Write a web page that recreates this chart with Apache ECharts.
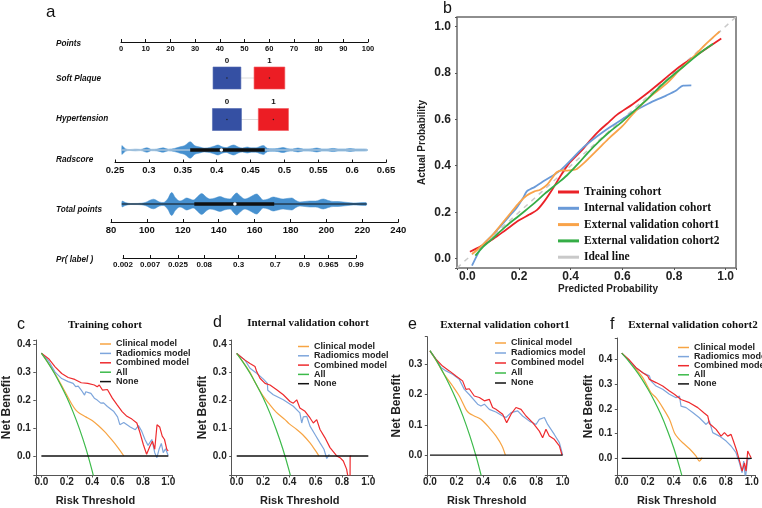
<!DOCTYPE html>
<html>
<head>
<meta charset="utf-8">
<script src="https://cdn.jsdelivr.net/npm/echarts@6.0.0/dist/echarts.min.js"></script>
<style>
  html, body { margin: 0; padding: 0; background: #fff; }
  #chart { width: 762px; height: 508px; }
</style>
</head>
<body>
<div id="chart"></div>
<script>
// ---------- panel a: nomogram ----------
var softPlaqueLevels = ['0', '1'];
var softPlaquePoints = [42.9, 60.1];
var softPlaqueFreq = [0.48, 0.53];
var hypertensionLevels = ['0', '1'];
var hypertensionPoints = [42.9, 61.7];
var hypertensionFreq = [0.5, 0.52];

var radscoreViolin = [[0.2600,0],[0.2603,4.5],[0.2625,3],[0.266,1],[0.272,0.5],[0.280,0.8],[0.288,0.6],[0.297,2.2],[0.304,0.7],[0.312,0.9],[0.321,2.2],[0.329,0.8],[0.338,1.6],[0.346,3.2],[0.353,4.5],[0.361,8.3],[0.368,4.2],[0.375,3],[0.382,2],[0.390,2.6],[0.397,4],[0.402,5],[0.408,3.2],[0.414,2.4],[0.420,4],[0.425,5],[0.432,3],[0.438,2],[0.445,3],[0.451,2.2],[0.458,2.2],[0.464,3.6],[0.469,4.5],[0.475,1.6],[0.482,1.2],[0.490,1.5],[0.498,2.6],[0.505,1.3],[0.512,1],[0.520,2],[0.528,1],[0.535,1],[0.542,1.3],[0.548,2],[0.555,1],[0.563,1],[0.572,1.6],[0.580,1],[0.590,1],[0.597,1.5],[0.605,1],[0.615,1],[0.622,0.8],[0.623,0]];
var radscoreRange = [0.26, 0.623];
var radscoreBox = [0.361, 0.471];
var radscoreMedian = 0.407;

var totalViolin = [[86,0],[86.3,3],[88,1.5],[91,0.5],[95,0.6],[99,1.5],[103.6,4.8],[107,2],[109.1,1.5],[111.5,5],[113.8,11.5],[116,6],[118.4,3],[120,4],[122.1,6],[124,5],[125.8,4],[128,7],[130.5,10.5],[133,7],[135.1,5],[138,6],[140.7,7.5],[143,6],[146.3,5],[148,8],[150,11],[152,8],[154.6,5],[157.5,7],[161.1,10],[163,7],[164.8,4],[167.5,5],[170.4,7],[173,6],[175.9,5],[178,5.5],[180.6,6],[183,3.5],[185.2,2],[188,2.5],[190.8,3],[194,3],[198.2,5],[201,3.5],[203.8,2.5],[206.5,2.5],[209.3,2],[212,1.5],[214.9,1],[218,1.2],[222,1.5],[222.4,0]];
var totalRange = [86, 222.4];
var totalBox = [126.4, 170.9];
var totalMedian = 149;

var prTicks = [0.002, 0.007, 0.025, 0.08, 0.3, 0.7, 0.9, 0.965, 0.99];
var prLabels = ['0.002', '0.007', '0.025', '0.08', '0.3', '0.7', '0.9', '0.965', '0.99'];

// ---------- panel b: calibration ----------
var calNames = ['Training cohort', 'Internal validation cohort', 'External validation cohort1', 'External validation cohort2', 'Ideal line'];
var calTraining = [[0.01,0.03],[0.05,0.052],[0.1,0.085],[0.15,0.125],[0.2,0.165],[0.24,0.19],[0.27,0.21],[0.3,0.25],[0.33,0.3],[0.36,0.355],[0.39,0.405],[0.42,0.44],[0.45,0.475],[0.48,0.515],[0.51,0.55],[0.55,0.59],[0.58,0.62],[0.64,0.665],[0.7,0.715],[0.76,0.77],[0.82,0.825],[0.88,0.87],[0.94,0.915],[0.983,0.947]];
var calInternal = [[0.018,-0.03],[0.04,0.02],[0.063,0.063],[0.1,0.105],[0.127,0.138],[0.16,0.18],[0.192,0.221],[0.215,0.26],[0.23,0.29],[0.245,0.3],[0.26,0.308],[0.29,0.33],[0.32,0.35],[0.36,0.38],[0.41,0.435],[0.45,0.48],[0.5,0.525],[0.55,0.565],[0.6,0.6],[0.642,0.632],[0.7,0.667],[0.771,0.703],[0.81,0.725],[0.835,0.745],[0.867,0.746]];
var calExternal1 = [[0.018,0.02],[0.045,0.045],[0.076,0.078],[0.1,0.105],[0.127,0.142],[0.17,0.2],[0.2,0.24],[0.23,0.272],[0.26,0.29],[0.282,0.297],[0.31,0.32],[0.346,0.372],[0.37,0.38],[0.385,0.379],[0.41,0.382],[0.424,0.386],[0.45,0.41],[0.475,0.437],[0.514,0.48],[0.55,0.52],[0.6,0.57],[0.642,0.624],[0.7,0.69],[0.771,0.753],[0.82,0.81],[0.861,0.853],[0.925,0.925],[0.977,0.978]];
var calExternal2 = [[0.031,0.013],[0.06,0.05],[0.089,0.078],[0.15,0.14],[0.2,0.185],[0.256,0.236],[0.3,0.28],[0.35,0.325],[0.385,0.358],[0.43,0.41],[0.47,0.46],[0.514,0.509],[0.55,0.545],[0.6,0.59],[0.642,0.632],[0.7,0.69],[0.76,0.755],[0.835,0.825],[0.9,0.885],[0.951,0.925]];
var calIdeal = [[-0.04,-0.04],[1.04,1.04]];

// ---------- panels c-f: decision curves ----------
var dcaNames = ['Clinical model', 'Radiomics model', 'Combined model', 'All', 'None'];
var dcaTitles = ['Training cohort', 'Internal validation cohort', 'External validation cohort1', 'External validation cohort2'];
var noneLine = [[0,0],[1,0]];

var cClinical = [[0,0.368],[0.05,0.335],[0.1,0.3],[0.15,0.26],[0.2,0.218],[0.24,0.185],[0.27,0.165],[0.3,0.153],[0.35,0.14],[0.4,0.127],[0.45,0.108],[0.5,0.086],[0.55,0.06],[0.6,0.032],[0.65,0.0]];
var cRadiomics = [[0,0.368],[0.057,0.34],[0.108,0.3],[0.16,0.277],[0.211,0.266],[0.25,0.26],[0.27,0.248],[0.29,0.25],[0.314,0.236],[0.34,0.218],[0.35,0.23],[0.39,0.224],[0.417,0.207],[0.44,0.2],[0.468,0.189],[0.49,0.19],[0.52,0.177],[0.571,0.159],[0.6,0.14],[0.618,0.112],[0.649,0.12],[0.7,0.104],[0.74,0.094],[0.765,0.109],[0.79,0.089],[0.816,0.059],[0.84,0.038],[0.87,0.059],[0.893,0.012],[0.91,-0.006],[0.927,0.024],[0.945,0.045],[0.96,0.012],[0.978,0.026],[0.999,0.002]];
var cCombined = [[0,0.368],[0.057,0.348],[0.108,0.319],[0.16,0.295],[0.211,0.281],[0.263,0.274],[0.314,0.262],[0.366,0.26],[0.417,0.254],[0.44,0.248],[0.456,0.254],[0.481,0.236],[0.52,0.238],[0.559,0.207],[0.597,0.183],[0.636,0.159],[0.674,0.142],[0.713,0.132],[0.752,0.118],[0.777,0.083],[0.803,0.041],[0.829,0.006],[0.855,0.035],[0.875,0.053],[0.893,0.024],[0.911,0.112],[0.932,0.104],[0.952,0.071],[0.97,0.059],[0.988,0.024],[0.999,0.018]];
var cAll = [[0,0.368],[0.05,0.335],[0.1,0.298],[0.15,0.256],[0.2,0.21],[0.25,0.157],[0.3,0.097],[0.35,0.028],[0.4,-0.053],[0.42,-0.09]];

var dClinical = [[0,0.367],[0.05,0.335],[0.1,0.3],[0.14,0.263],[0.2,0.215],[0.25,0.185],[0.3,0.157],[0.367,0.13],[0.4,0.115],[0.456,0.095],[0.5,0.077],[0.557,0.047],[0.6,0.018],[0.625,0.0]];
var dRadiomics = [[0,0.367],[0.063,0.343],[0.101,0.314],[0.152,0.296],[0.203,0.275],[0.233,0.26],[0.236,0.235],[0.278,0.219],[0.354,0.201],[0.43,0.178],[0.48,0.154],[0.494,0.118],[0.506,0.14],[0.532,0.142],[0.557,0.107],[0.595,0.077],[0.633,0.047],[0.663,0.024],[0.684,-0.009],[0.704,0.006]];
var dCombined = [[0,0.367],[0.063,0.343],[0.101,0.331],[0.139,0.32],[0.152,0.302],[0.177,0.278],[0.215,0.26],[0.253,0.254],[0.304,0.237],[0.354,0.219],[0.405,0.195],[0.43,0.189],[0.456,0.201],[0.48,0.172],[0.519,0.16],[0.557,0.136],[0.582,0.118],[0.608,0.13],[0.633,0.095],[0.671,0.065],[0.709,0.03],[0.76,0.0],[0.785,-0.006],[0.81,-0.018],[0.835,-0.047],[0.855,-0.1],[0.86,-0.2],[0.862,0.0],[0.87,0.0]];
var dAll = [[0,0.367],[0.05,0.334],[0.1,0.297],[0.15,0.255],[0.2,0.209],[0.25,0.156],[0.3,0.095],[0.35,0.026],[0.4,-0.055],[0.42,-0.095]];

var eClinical = [[0,0.344],[0.05,0.31],[0.1,0.272],[0.121,0.258],[0.171,0.228],[0.221,0.195],[0.271,0.151],[0.296,0.138],[0.334,0.129],[0.384,0.118],[0.447,0.09],[0.497,0.063],[0.543,0.03],[0.568,0.0]];
var eRadiomics = [[0,0.344],[0.045,0.317],[0.083,0.289],[0.121,0.278],[0.171,0.267],[0.221,0.25],[0.259,0.217],[0.296,0.2],[0.359,0.168],[0.384,0.162],[0.41,0.168],[0.447,0.151],[0.497,0.142],[0.548,0.129],[0.573,0.124],[0.611,0.14],[0.661,0.146],[0.698,0.129],[0.749,0.112],[0.799,0.101],[0.824,0.118],[0.862,0.124],[0.887,0.101],[0.912,0.085],[0.937,0.068],[0.975,0.041],[1.0,0.0]];
var eCombined = [[0,0.344],[0.045,0.317],[0.095,0.294],[0.146,0.278],[0.196,0.261],[0.246,0.245],[0.271,0.217],[0.296,0.219],[0.334,0.195],[0.372,0.19],[0.41,0.179],[0.447,0.184],[0.472,0.157],[0.497,0.151],[0.548,0.135],[0.578,0.107],[0.611,0.135],[0.648,0.157],[0.686,0.151],[0.724,0.129],[0.774,0.107],[0.824,0.079],[0.849,0.057],[0.874,0.085],[0.899,0.063],[0.937,0.052],[0.975,0.03],[0.995,0.0]];
var eAll = [[0,0.345],[0.05,0.311],[0.1,0.272],[0.15,0.229],[0.2,0.181],[0.25,0.127],[0.3,0.064],[0.35,-0.008],[0.4,-0.092]];

var fClinical = [[0,0.425],[0.059,0.393],[0.11,0.36],[0.162,0.326],[0.226,0.265],[0.264,0.245],[0.315,0.205],[0.367,0.158],[0.405,0.104],[0.431,0.084],[0.469,0.063],[0.521,0.039],[0.572,0.009],[0.597,-0.011],[0.618,0.003]];
var fRadiomics = [[0,0.425],[0.059,0.393],[0.11,0.366],[0.162,0.346],[0.213,0.333],[0.226,0.312],[0.264,0.292],[0.315,0.279],[0.367,0.259],[0.418,0.245],[0.444,0.252],[0.456,0.211],[0.495,0.205],[0.546,0.185],[0.597,0.164],[0.649,0.137],[0.674,0.151],[0.7,0.104],[0.751,0.09],[0.803,0.07],[0.841,0.05],[0.879,0.023],[0.905,-0.018],[0.926,-0.058],[0.938,-0.011],[0.951,-0.08],[0.969,-0.004],[0.995,0]];
var fCombined = [[0,0.425],[0.059,0.397],[0.11,0.366],[0.162,0.346],[0.2,0.333],[0.213,0.319],[0.264,0.306],[0.315,0.292],[0.367,0.272],[0.405,0.259],[0.418,0.252],[0.456,0.238],[0.521,0.225],[0.585,0.205],[0.636,0.182],[0.662,0.171],[0.674,0.141],[0.726,0.117],[0.764,0.09],[0.79,0.104],[0.815,0.09],[0.841,0.097],[0.859,0.07],[0.885,0.03],[0.91,-0.018],[0.926,-0.051],[0.944,-0.018],[0.956,-0.051],[0.969,0.03],[0.982,0.016],[0.995,0.003]];
var fAll = [[0,0.425],[0.05,0.395],[0.1,0.361],[0.15,0.324],[0.2,0.281],[0.25,0.233],[0.3,0.179],[0.35,0.115],[0.4,0.042],[0.45,-0.045],[0.48,-0.105]];

(function() {
  var SANS = '"Liberation Sans", Arial, sans-serif';
  var SERIF = '"Liberation Serif", "Times New Roman", serif';
  var blueBox = '#3550a3', redBox = '#ec1d24', violin = '#4690cf';
  var dcaColors = ['#f7a443', '#7ea6dc', '#ee2b2e', '#3cba4a', '#111111'];
  var calColors = ['#ea2228', '#6a9ad8', '#f9a349', '#35ad46', '#c9c9c9'];

  function logit(p) { return Math.log(p / (1 - p)); }

  var grids = [], xAxes = [], yAxes = [], series = [], legends = [], graphics = [];

  function addGrid(g, x, y) {
    var i = grids.length;
    grids.push(g);
    x.gridIndex = i; y.gridIndex = i;
    xAxes.push(x); yAxes.push(y);
    return i;
  }
  function hidden(min, max) { return { type: 'value', show: false, min: min, max: max }; }
  function nomoAxis(min, max, interval, fontSize, margin) {
    return {
      type: 'value', min: min, max: max, interval: interval,
      axisLine: { onZero: false, lineStyle: { color: '#111', width: 1 } },
      axisTick: { inside: true, length: 3, lineStyle: { color: '#111' } },
      axisLabel: { fontSize: fontSize, fontWeight: 'bold', color: '#111', margin: margin, fontFamily: SANS },
      splitLine: { show: false }
    };
  }
  function text(str, x, y, size, opts) {
    opts = opts || {};
    graphics.push({
      type: 'text', x: x, y: y, silent: true,
      style: {
        text: str, fill: '#111', fontSize: size,
        fontFamily: opts.family || SANS,
        fontWeight: opts.weight || 'normal',
        fontStyle: opts.style || 'normal',
        align: opts.align || 'left', verticalAlign: 'middle'
      }
    });
  }

  // ---- nomogram ----
  addGrid({ left: 121, top: 30, width: 247, height: 12 }, nomoAxis(0, 100, 10, 7.5, 3), hidden(0, 1));

  function boxRow(top, levels, pts, freq) {
    var gi = addGrid({ left: 121, top: top, width: 247, height: 24 }, hidden(0, 100), hidden(-12, 12));
    series.push({
      type: 'line', xAxisIndex: gi, yAxisIndex: gi, symbol: 'none', silent: true,
      data: pts.map(function(p) { return [p, 0]; }),
      lineStyle: { color: '#dcdcdc', width: 1 }, z: 1
    });
    series.push({
      type: 'scatter', xAxisIndex: gi, yAxisIndex: gi, symbol: 'rect', silent: true, z: 2,
      data: pts.map(function(p, i) {
        return {
          value: [p, 0],
          symbolSize: [freq[i] * 58, 22],
          itemStyle: { color: i ? redBox : blueBox, opacity: 1, borderColor: i ? '#f0585c' : '#5068b0', borderWidth: 0.6 },
          label: { show: true, position: 'top', distance: 2, formatter: levels[i], fontSize: 8, fontWeight: 'bold', color: '#111', fontFamily: SANS }
        };
      })
    });
    series.push({
      type: 'scatter', xAxisIndex: gi, yAxisIndex: gi, symbol: 'circle', symbolSize: 1.5, silent: true, z: 3,
      itemStyle: { color: '#222', opacity: 1 },
      data: pts.map(function(p) { return [p, 0]; })
    });
  }
  boxRow(66, softPlaqueLevels, softPlaquePoints, softPlaqueFreq);
  boxRow(107.5, hypertensionLevels, hypertensionPoints, hypertensionFreq);

  function violinRow(grid, min, max, profile, range, box, median, rangeColor) {
    var gi = addGrid(grid, hidden(min, max), hidden(-12, 12));
    [1, -1].forEach(function(sign) {
      series.push({
        type: 'line', xAxisIndex: gi, yAxisIndex: gi, symbol: 'none', smooth: 0.35, silent: true,
        data: profile.map(function(d) { return [d[0], sign * d[1]]; }),
        lineStyle: { width: 0.5, color: violin },
        itemStyle: { color: violin },
        areaStyle: { color: violin, opacity: 1 }, z: 1
      });
    });
    series.push({
      type: 'line', xAxisIndex: gi, yAxisIndex: gi, symbol: 'none', silent: true, z: 2,
      data: [[range[0], 0], [range[1], 0]], lineStyle: { color: rangeColor, width: 1 }
    });
    series.push({
      type: 'line', xAxisIndex: gi, yAxisIndex: gi, symbol: 'none', silent: true, z: 3,
      data: [[box[0], 0], [box[1], 0]], lineStyle: { color: '#111', width: 3.5, cap: 'butt' }
    });
    series.push({
      type: 'scatter', xAxisIndex: gi, yAxisIndex: gi, symbol: 'circle', symbolSize: 3.5, silent: true, z: 4,
      itemStyle: { color: '#fff', opacity: 1 }, data: [[median, 0]]
    });
  }
  violinRow({ left: 115, top: 138, width: 271, height: 24 }, 0.25, 0.65, radscoreViolin, radscoreRange, radscoreBox, radscoreMedian, '#d8dde2');
  addGrid({ left: 115, top: 152, width: 271, height: 10.5 }, nomoAxis(0.25, 0.65, 0.05, 9.5, 3), hidden(0, 1));
  violinRow({ left: 111, top: 192, width: 287.3, height: 24 }, 80, 240, totalViolin, totalRange, totalBox, totalMedian, '#111');
  addGrid({ left: 111, top: 212, width: 287.3, height: 10 }, nomoAxis(80, 240, 20, 9.5, 3.5), hidden(0, 1));

  var prPos = prTicks.map(logit);
  var prAxis = nomoAxis(prPos[0], prPos[prPos.length - 1], null, 8, 3);
  delete prAxis.interval;
  prAxis.axisTick.customValues = prPos;
  prAxis.axisLabel.customValues = prPos;
  prAxis.axisLabel.formatter = function(v) {
    for (var i = 0; i < prPos.length; i++) if (Math.abs(prPos[i] - v) < 1e-6) return prLabels[i];
    return '';
  };
  addGrid({ left: 123, top: 250, width: 233, height: 8 }, prAxis, hidden(0, 1));

  text('a', 46, 12, 17);
  [['Points', 44], ['Soft Plaque', 78.3], ['Hypertension', 119], ['Radscore', 159.3], ['Total points', 210], ['Pr( label )', 259.5]].forEach(function(r) {
    text(r[0], 56, r[1], 8.2, { weight: 'bold', style: 'italic' });
  });

  // ---- calibration ----
  function probFmt(v) { return Math.abs(v * 10 - Math.round(v * 10)) < 1e-6 ? v.toFixed(1) : ''; }
  var gb = addGrid(
    { left: 457, top: 17, width: 279, height: 251, show: true, borderColor: '#6a6a6a', borderWidth: 1.5 },
    {
      type: 'value', min: -0.04, max: 1.04,
      axisLine: { show: false, onZero: false },
      axisTick: { length: 2, lineStyle: { color: '#555' } },
      axisLabel: { fontSize: 12, fontWeight: 'bold', color: '#222', margin: 3, fontFamily: SANS, formatter: probFmt },
      splitLine: { show: false },
      name: 'Predicted Probability', nameLocation: 'middle', nameGap: 15,
      nameTextStyle: { fontSize: 10, fontWeight: 'bold', color: '#222', fontFamily: SANS, padding: [0, 0, 0, 23] }
    },
    {
      type: 'value', min: -0.04, max: 1.04,
      axisLine: { show: false, onZero: false },
      axisTick: { length: 2, lineStyle: { color: '#555' } },
      axisLabel: { fontSize: 12, fontWeight: 'bold', color: '#222', margin: 6, fontFamily: SANS, formatter: probFmt },
      splitLine: { show: false },
      name: 'Actual Probability', nameLocation: 'middle', nameGap: 30,
      nameTextStyle: { fontSize: 10, fontWeight: 'bold', color: '#222', fontFamily: SANS }
    }
  );
  var calData = [calTraining, calInternal, calExternal1, calExternal2, calIdeal];
  calData.forEach(function(d, i) {
    var ideal = i === 4;
    series.push({
      name: calNames[i], type: 'line', xAxisIndex: gb, yAxisIndex: gb, symbol: 'none',
      smooth: ideal ? false : 0.3, silent: true, data: d, z: ideal ? 1 : 2 + i,
      itemStyle: { color: calColors[i] },
      lineStyle: { color: calColors[i], width: ideal ? 1.5 : 1.8, type: ideal ? [5, 5] : 'solid' }
    });
  });
  legends.push({
    left: 558, top: 186, orient: 'vertical', padding: 0, itemWidth: 21, itemHeight: 3, itemGap: 4.3,
    icon: 'rect', selectedMode: false, data: calNames,
    textStyle: { fontFamily: SERIF, fontWeight: 'bold', fontSize: 11.5, color: '#111', lineHeight: 12 }
  });
  text('b', 443, 9, 16);

  // ---- decision curves ----
  var panels = [
    { letter: 'c', lx: 17, ty: 325, tx: 105, grid: { left: 33.3, top: 340, width: 138.7, height: 135 }, x: [-0.044, 1.029], y: [-0.068, 0.415], data: [cClinical, cRadiomics, cCombined, cAll, noneLine], lg: [100, 339.5, 0.4], yGap: 19, xShift: -8.5 },
    { letter: 'd', lx: 213, ty: 323, tx: 308, grid: { left: 231.7, top: 340, width: 140.3, height: 135 }, x: [-0.038, 1.028], y: [-0.068, 0.415], data: [dClinical, dRadiomics, dCombined, dAll, noneLine], lg: [298, 342, 0.3], yGap: 22, xShift: -2 },
    { letter: 'e', lx: 408, ty: 325, tx: 505, grid: { left: 427.3, top: 336.7, width: 138.7, height: 138.3 }, x: [-0.02, 1.025], y: [-0.066, 0.391], data: [eClinical, eRadiomics, eCombined, eAll, noneLine], lg: [495, 338.5, 1], yGap: 25, xShift: -10 },
    { letter: 'f', lx: 610, ty: 325, tx: 693, grid: { left: 617.3, top: 338, width: 137.7, height: 137 }, x: [-0.034, 1.025], y: [-0.067, 0.486], data: [fClinical, fRadiomics, fCombined, fAll, noneLine], lg: [678, 343, 0.1], yGap: 22, xShift: -9.5 }
  ];
  panels.forEach(function(p, k) {
    var axisBase = function() {
      return {
        type: 'value',
        axisLine: { onZero: false, lineStyle: { color: '#555', width: 1 } },
        axisTick: { length: 2.5, lineStyle: { color: '#555' } },
        axisLabel: { fontSize: 10, fontWeight: 'bold', color: '#222', fontFamily: SANS, formatter: probFmt },
        splitLine: { show: false },
        nameLocation: 'middle'
      };
    };
    var xa = axisBase();
    xa.min = p.x[0]; xa.max = p.x[1];
    xa.axisLabel.margin = 2;
    xa.name = 'Risk Threshold'; xa.nameGap = 20;
    xa.nameTextStyle = { fontSize: 11, fontWeight: 'bold', color: '#222', fontFamily: SANS, padding: [0, -2 * p.xShift, 0, 0] };
    var ya = axisBase();
    ya.min = p.y[0]; ya.max = p.y[1];
    ya.axisLabel.margin = 5;
    ya.name = 'Net Benefit'; ya.nameGap = p.yGap;
    ya.nameTextStyle = { fontSize: 12, fontWeight: 'bold', color: '#222', fontFamily: SANS };
    var gi = addGrid(p.grid, xa, ya);
    p.data.forEach(function(d, i) {
      series.push({
        name: dcaNames[i], type: 'line', xAxisIndex: gi, yAxisIndex: gi, symbol: 'none', silent: true,
        smooth: (i === 0 || i === 3) ? 0.3 : false, data: d, z: 2 + i,
        itemStyle: { color: dcaColors[i] },
        lineStyle: { color: dcaColors[i], width: i === 4 ? 1.3 : 1.2 }
      });
    });
    legends.push({
      left: p.lg[0], top: p.lg[1], orient: 'vertical', padding: 0, itemWidth: 11, itemHeight: 1.5,
      itemGap: p.lg[2], icon: 'rect', selectedMode: false, data: dcaNames,
      textStyle: { fontFamily: SANS, fontWeight: 'bold', fontSize: 9, color: '#222', lineHeight: 9 }
    });
    text(p.letter, p.lx, p.ty, 16);
    text(dcaTitles[k], p.tx, p.ty, 11, { family: SERIF, weight: 'bold', align: 'center' });
  });

  var chart = echarts.init(document.getElementById('chart'), null, { renderer: 'canvas' });
  chart.setOption({
    animation: false,
    backgroundColor: '#fff',
    grid: grids,
    xAxis: xAxes,
    yAxis: yAxes,
    legend: legends,
    graphic: graphics,
    series: series
  });
  window.addEventListener('resize', function() { chart.resize(); });
})();
</script>
</body>
</html>
